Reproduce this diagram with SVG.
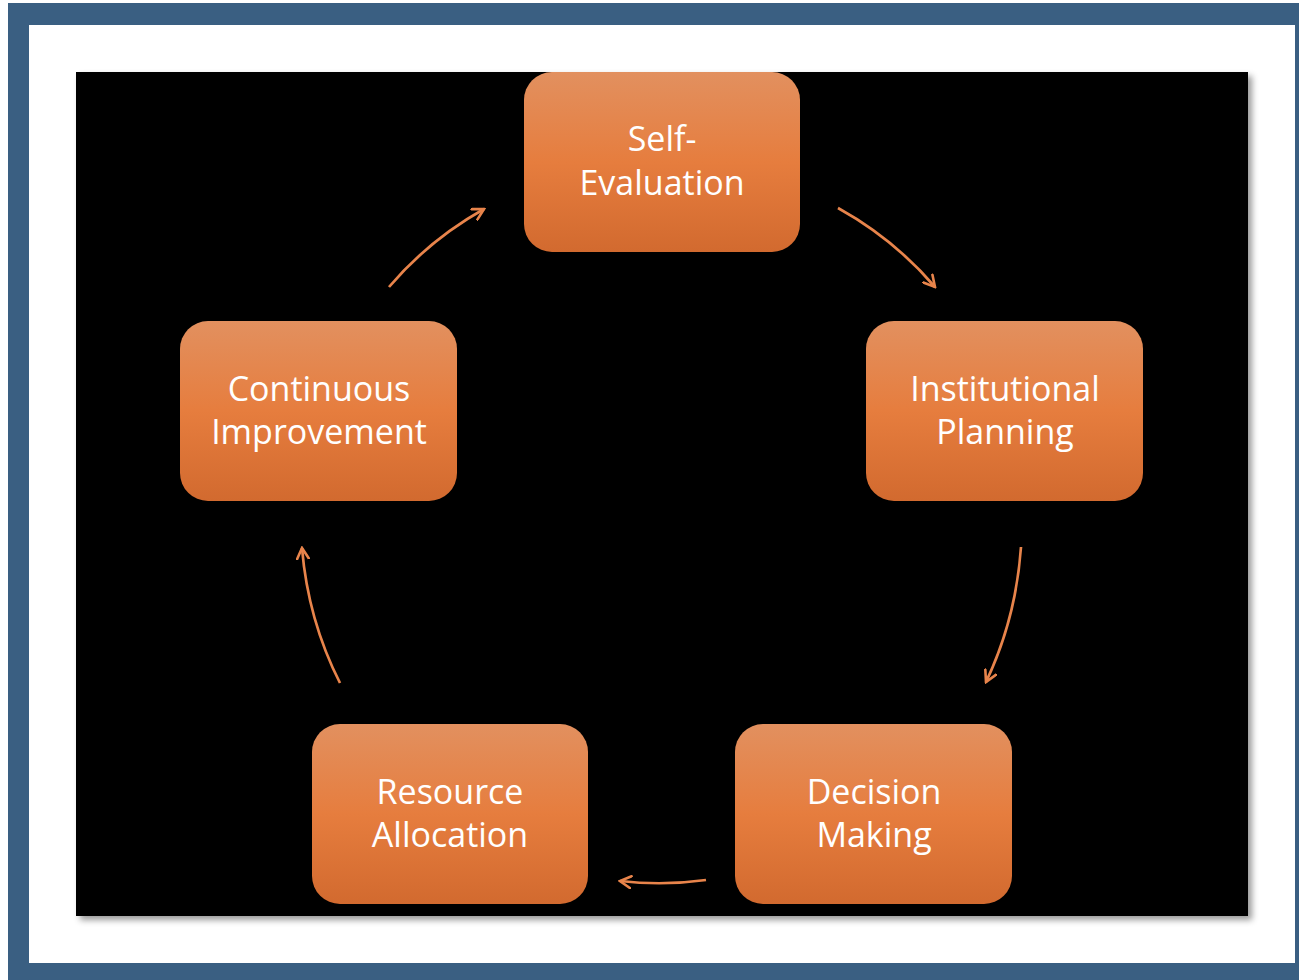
<svg xmlns="http://www.w3.org/2000/svg" width="1299" height="980" viewBox="0 0 1299 980">
  <defs>
    <linearGradient id="g" x1="0" y1="0" x2="0" y2="1">
      <stop offset="0" stop-color="#e2905f"/>
      <stop offset="0.5" stop-color="#e67d3e"/>
      <stop offset="1" stop-color="#d26a2f"/>
    </linearGradient>
    <filter id="sh" x="-5%" y="-5%" width="110%" height="110%">
      <feDropShadow dx="4" dy="4" stdDeviation="3" flood-color="#000" flood-opacity="0.4"/>
    </filter>
    <marker id="ah" viewBox="0 0 14 14" refX="12" refY="7" markerWidth="14" markerHeight="14" markerUnits="userSpaceOnUse" orient="auto">
      <path d="M1,1 L12,7 L1,13" fill="none" stroke="#e8844b" stroke-width="2.6" stroke-linecap="round" stroke-linejoin="miter"/>
    </marker>
    <style>
      .node rect { fill: url(#g); }
      .node text { fill: #ffffff; font-family: "Open Sans", "Noto Sans", sans-serif; font-size: 34px; text-anchor: middle; }
      .conn path { fill: none; stroke: #e8844b; stroke-width: 2.7; marker-end: url(#ah); }
    </style>
  </defs>
  <rect x="0" y="0" width="1299" height="980" fill="#ffffff"/>
  <path d="M8,3 H1299 V980 H8 Z M29,25 V963 H1295 V25 Z" fill="#3a5f82" fill-rule="evenodd"/>
  <rect x="76" y="72" width="1172" height="844" fill="#000000" filter="url(#sh)"/>

  <g id="connectors" class="conn">
    <path d="M389,287 Q429,240 484,209"/>
    <path d="M838,208 Q894,239 935,287"/>
    <path d="M1021,547 Q1016,619 986,682"/>
    <path d="M706,880 Q663,886 620,881"/>
    <path d="M340,683 Q308,620 302,548"/>
  </g>

  <g id="self-evaluation" class="node">
    <rect x="524" y="72" width="276" height="180" rx="28"/>
    <text x="662" y="151">Self-</text>
    <text x="662" y="195">Evaluation</text>
  </g>
  <g id="institutional-planning" class="node">
    <rect x="866" y="321" width="277" height="180" rx="28"/>
    <text x="1005" y="401">Institutional</text>
    <text x="1005" y="444">Planning</text>
  </g>
  <g id="decision-making" class="node">
    <rect x="735" y="724" width="277" height="180" rx="28"/>
    <text x="874" y="804">Decision</text>
    <text x="874" y="847">Making</text>
  </g>
  <g id="resource-allocation" class="node">
    <rect x="312" y="724" width="276" height="180" rx="28"/>
    <text x="450" y="804">Resource</text>
    <text x="450" y="847">Allocation</text>
  </g>
  <g id="continuous-improvement" class="node">
    <rect x="180" y="321" width="277" height="180" rx="28"/>
    <text x="319" y="401">Continuous</text>
    <text x="319" y="444">Improvement</text>
  </g>
</svg>
